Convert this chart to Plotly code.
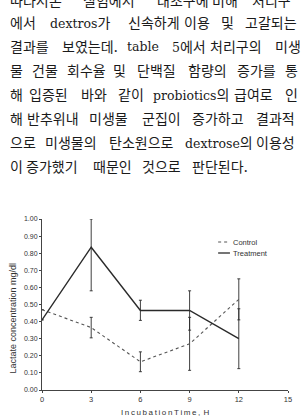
import re
import plotly.graph_objects as go

# ---- data ----
time_h = [0, 3, 6, 9, 12]
control = [0.47, 0.365, 0.165, 0.27, 0.53]
control_err = [0.0, 0.06, 0.058, 0.155, 0.12]
treatment = [0.41, 0.835, 0.465, 0.465, 0.30]
treatment_err_up = [0.0, 0.165, 0.06, 0.115, 0.175]
treatment_err_dn = [0.0, 0.255, 0.058, 0.115, 0.175]
x_ticks = [0, 3, 6, 9, 12, 15]
y_ticks = [0.0, 0.1, 0.2, 0.3, 0.4, 0.5, 0.6, 0.7, 0.8, 0.9, 1.0]
series_names = ["Control", "Treatment"]

# Korean paragraph above the chart: (line y in px, [(x px, word), ...])
text_lines = [
    (1, [(7, "따라서"), (47, "본"), (82, "실험에서"), (157, "대조구에"), (213, "비해"), (253, "처리구")]),
    (23, [(7, "에서"), (48, "dextros가"), (127, "신속하게"), (184, "이용"), (222, "및"), (246, "고갈되는")]),
    (47, [(7, "결과를"), (60, "보였는데."), (126, "table"), (172, "5에서"), (211, "처리구의"), (277, "미생")]),
    (71, [(7, "물"), (30, "건물"), (65, "회수율"), (112, "및"), (137, "단백질"), (188, "함량의"), (238, "증가를"), (287, "통")]),
    (95, [(7, "해"), (27, "입증된"), (80, "바와"), (117, "같이"), (153, "probiotics의"), (235, "급여로"), (287, "인")]),
    (119, [(7, "해"), (25, "반추위내"), (88, "미생물"), (142, "군집이"), (192, "증가하고"), (257, "결과적")]),
    (143, [(7, "으로"), (43, "미생물의"), (108, "탄소원으로"), (185, "dextrose의"), (257, "이용성")]),
    (167, [(7, "이"), (24, "증가했기"), (92, "때문인"), (142, "것으로"), (192, "판단된다.")]),
]

W, H = 302, 419
ML, MR, MT, MB = 42, 10, 219, 29

ink = "#2a2a2a"
fig = go.Figure()
fig.add_trace(go.Scatter(
    x=time_h, y=control, name=series_names[0], mode="lines", showlegend=False,
    line=dict(color="#555555", width=1.1, dash="dot"),
    error_y=dict(type="data", array=control_err, visible=True,
                 color=ink, thickness=0.9, width=1.5),
))
fig.add_trace(go.Scatter(
    x=time_h, y=treatment, name=series_names[1], mode="lines", showlegend=False,
    line=dict(color=ink, width=1.4),
    error_y=dict(type="data", symmetric=False, array=treatment_err_up,
                 arrayminus=treatment_err_dn, visible=True,
                 color=ink, thickness=0.9, width=1.5),
))

pw = W - ML - MR
ph = H - MT - MB
def px_to_paper_x(px):
    return (px - ML) / pw
def px_to_paper_y(py):
    return (H - MB - py) / ph

def latin_small(word):
    return re.sub(r"([A-Za-z0-9]+)",
                  r"<span style='font-size:12.5px'>\1</span>", word)

annotations = []
for ly, words in text_lines:
    for wx, w in words:
        annotations.append(dict(
            text=latin_small(w), x=px_to_paper_x(wx), y=px_to_paper_y(ly),
            xref="paper", yref="paper", xanchor="left", yanchor="middle",
            showarrow=False,
            font=dict(family="DejaVu Serif, Noto Sans CJK KR", size=14, color="#1a1a1a"),
        ))

# axis titles
annotations.append(dict(
    text="Lactate concentration mg/dl", x=px_to_paper_x(13), y=px_to_paper_y(318),
    xref="paper", yref="paper", xanchor="center", yanchor="middle",
    textangle=-90, showarrow=False,
    font=dict(family="Liberation Sans, Arial", size=9, color="#333333"),
))
sp = "\u2009"
annotations.append(dict(
    text=sp.join("IncubationTime,") + sp + sp + "H", x=px_to_paper_x(167), y=px_to_paper_y(412),
    xref="paper", yref="paper", xanchor="center", yanchor="middle",
    showarrow=False,
    font=dict(family="Liberation Sans, Arial", size=8, color="#333333"),
))

# manual legend (short sample lines like the reference)
shapes = []
legend_rows = [(242, "dot", "#555555", 1.0), (253, "solid", ink, 1.3)]
for (ly, dash, col, lw), nm in zip(legend_rows, series_names):
    shapes.append(dict(type="line", xref="paper", yref="paper",
                       x0=px_to_paper_x(221), x1=px_to_paper_x(233),
                       y0=px_to_paper_y(ly), y1=px_to_paper_y(ly),
                       line=dict(color=col, width=lw, dash=dash)))
    annotations.append(dict(
        text=nm, x=px_to_paper_x(234), y=px_to_paper_y(ly),
        xref="paper", yref="paper", xanchor="left", yanchor="middle",
        showarrow=False,
        font=dict(family="Liberation Sans, Arial", size=7.5, color="#333333"),
    ))

fig.update_layout(
    width=W, height=H,
    margin=dict(l=ML, r=MR, t=MT, b=MB, pad=0),
    paper_bgcolor="white", plot_bgcolor="white",
    showlegend=False,
    annotations=annotations,
    shapes=shapes,
)
fig.update_xaxes(range=[0, 15], tickvals=x_ticks, ticktext=[str(v) for v in x_ticks],
                 showgrid=False, zeroline=False, showline=True, linecolor="#444444", linewidth=1,
                 ticks="outside", ticklen=2, tickcolor="#444444",
                 tickfont=dict(family="Liberation Sans, Arial", size=7.5, color="#333333"))
fig.update_yaxes(range=[0, 1.0], tickvals=y_ticks, ticktext=[f"{v:.2f}" for v in y_ticks],
                 showgrid=False, zeroline=False, showline=True, linecolor="#444444", linewidth=1,
                 ticks="outside", ticklen=2, tickcolor="#444444",
                 tickfont=dict(family="Liberation Sans, Arial", size=7, color="#333333"))

fig.write_html("out.html")
